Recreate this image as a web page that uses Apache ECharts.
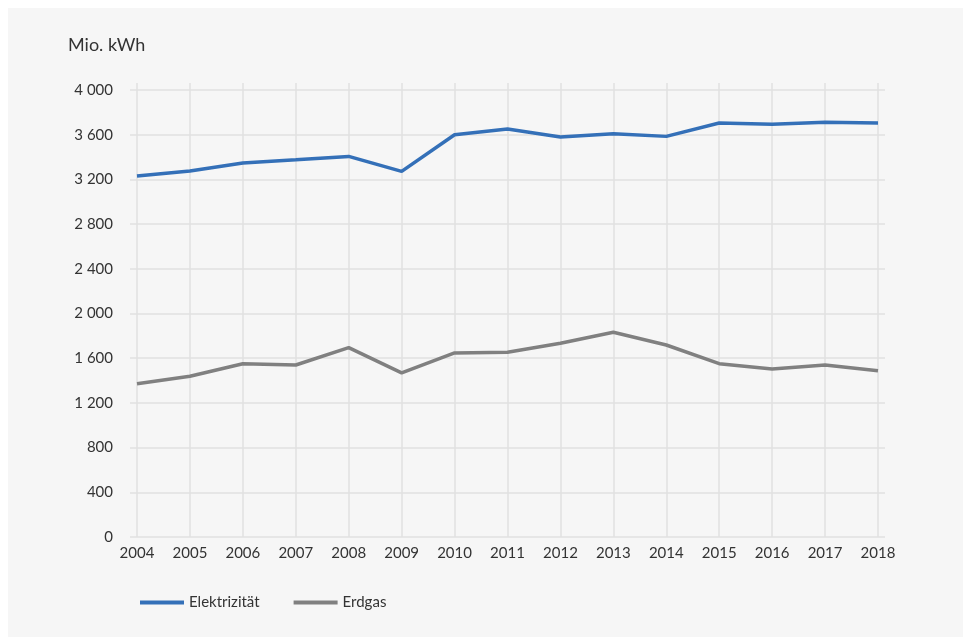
<!DOCTYPE html>
<html>
<head>
    <meta charset="utf-8" />
    <title>Elektrizität und Erdgas</title>
    <style>
        * { margin: 0; padding: 0 }
        html, body { width: 100%; height: 100%; background: #fff; }
        #chart { width: 963px; height: 637px; }
    </style>
</head>
<body>
    <div id="chart"></div>
    <script src="https://cdn.jsdelivr.net/npm/echarts@6/dist/echarts.min.js"></script>
    <script>
        // Daten (Mio. kWh)
        const years = ['2004', '2005', '2006', '2007', '2008', '2009', '2010', '2011',
            '2012', '2013', '2014', '2015', '2016', '2017', '2018'];
        const elektrizitaet = [3230, 3275, 3347, 3376, 3406, 3272, 3600, 3651,
            3579, 3609, 3585, 3705, 3693, 3711, 3705];
        const erdgas = [1372, 1438, 1551, 1539, 1694, 1468, 1647, 1653,
            1733, 1832, 1718, 1551, 1503, 1539, 1488];
        const seriesNames = ['Elektrizität', 'Erdgas'];
        const unitLabel = 'Mio. kWh';

        const font = 'Lato, "Open Sans", sans-serif';
        const textColor = '#333';
        const gridColor = '#e0e0e0';

        const fmt = v => String(v).replace(/\B(?=(\d{3})+(?!\d))/g, ' ');

        const chart = echarts.init(document.getElementById('chart'));
        chart.setOption({
            animation: false,
            textStyle: { fontFamily: font },
            graphic: [
                { type: 'rect', left: 8, top: 8, z: -10, shape: { width: 955, height: 629 }, style: { fill: '#f6f6f6' } },
                { type: 'text', left: 68, top: 36, style: { text: unitLabel, font: '18px ' + font, fill: textColor } }
            ],
            legend: {
                left: 135, top: 590,
                itemWidth: 44, itemHeight: 4, itemGap: 34,
                icon: 'rect',
                textStyle: { fontSize: 15, color: textColor, fontFamily: font },
                data: seriesNames
            },
            grid: [
                // horizontal lines + y labels (a bit wider than the data area)
                { left: 130, right: 78, top: 90, bottom: 100 },
                // vertical lines + x labels
                { left: 137, right: 85, top: 83, bottom: 100 },
                // data area
                { left: 137, right: 85, top: 90, bottom: 100 }
            ],
            xAxis: [
                { gridIndex: 0, type: 'value', min: 0, max: 1, show: false },
                {
                    gridIndex: 1, type: 'category', data: years, boundaryGap: false,
                    axisLine: { show: false }, axisTick: { show: false },
                    axisLabel: { margin: 9, fontSize: 15, color: textColor, fontFamily: font },
                    splitLine: { show: true, lineStyle: { color: gridColor, width: 1.5 } }
                },
                { gridIndex: 2, type: 'category', data: years, boundaryGap: false, show: false }
            ],
            yAxis: [
                {
                    gridIndex: 0, type: 'value', min: 0, max: 4000, interval: 400,
                    axisLine: { show: false }, axisTick: { show: false },
                    axisLabel: { margin: 17, fontSize: 15, color: textColor, fontFamily: font, formatter: fmt },
                    splitLine: { show: true, lineStyle: { color: gridColor, width: 1.5 } }
                },
                { gridIndex: 1, type: 'value', min: 0, max: 1, show: false },
                { gridIndex: 2, type: 'value', min: 0, max: 4000, show: false }
            ],
            series: [
                {
                    name: seriesNames[0], type: 'line', xAxisIndex: 2, yAxisIndex: 2,
                    data: elektrizitaet, showSymbol: false, symbol: 'none',
                    lineStyle: { color: '#3470b8', width: 3.5 }, itemStyle: { color: '#3470b8' }
                },
                {
                    name: seriesNames[1], type: 'line', xAxisIndex: 2, yAxisIndex: 2,
                    data: erdgas, showSymbol: false, symbol: 'none',
                    lineStyle: { color: '#808080', width: 3.5 }, itemStyle: { color: '#808080' }
                }
            ]
        });
    </script>
</body>
</html>
